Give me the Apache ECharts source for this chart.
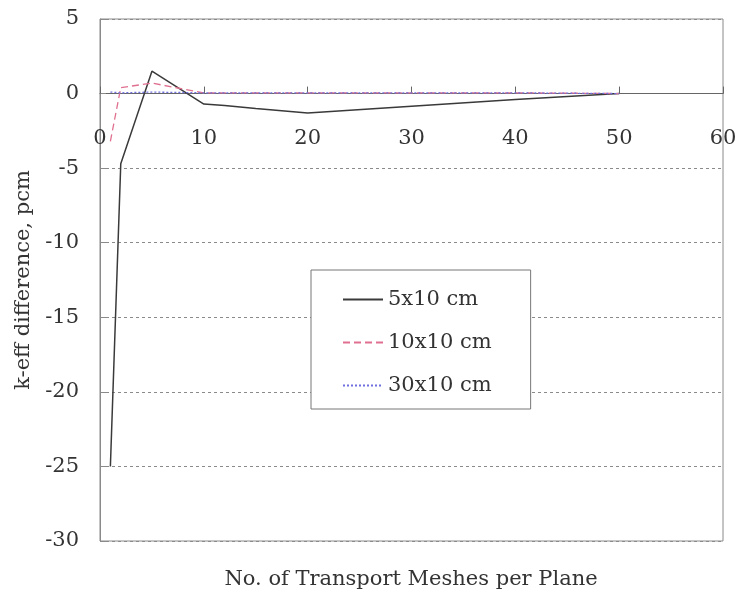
<!DOCTYPE html>
<html>
<head>
<meta charset="utf-8">
<script src="https://cdn.jsdelivr.net/npm/echarts@6/dist/echarts.min.js"></script>
<style>
  html, body { margin: 0; padding: 0; background: #fff; }
  #chart { width: 739px; height: 591px; }
</style>
</head>
<body>
<div id="chart"></div>
<script>
// Meshes per plane (x) against k-eff difference in pcm (y)
var meshes = [1, 2, 5, 10, 12, 15, 20, 30, 40, 50];
var diff5x10 = [-25.0, -4.7, 1.5, -0.7, -0.8, -1.0, -1.3, -0.85, -0.4, 0.0];
var diff10x10 = [-3.2, 0.4, 0.7, 0.05, 0.05, 0.05, 0.05, 0.05, 0.05, 0.0];
var diff30x10 = [0.1, 0.05, 0.1, 0.05, 0.05, 0.05, 0.05, 0.05, 0.05, 0.0];
var seriesNames = ['5x10 cm', '10x10 cm', '30x10 cm'];
var xTicks = [0, 10, 20, 30, 40, 50, 60];
var yTicks = [5, 0, -5, -10, -15, -20, -25, -30];
var xTitle = 'No. of Transport Meshes per Plane';
var yTitle = 'k-eff difference, pcm';

function pairs(xs, ys) {
  return xs.map(function (x, i) { return [x, ys[i]]; });
}

var W = 739, H = 591;
var gridBox = { left: 100, right: 16, top: 19, bottom: 50 };
var yMin = yTicks[yTicks.length - 1], yMax = yTicks[0];
// lift the x axis from the bottom edge up to the y = 0 level
var plotH = H - gridBox.top - gridBox.bottom;
var zeroLift = plotH * (0 - yMin) / (yMax - yMin);

var font = 'DejaVu Serif';
var chart = echarts.init(document.getElementById('chart'));
chart.setOption({
  backgroundColor: '#ffffff',
  animation: false,
  title: {
    text: xTitle,
    left: 411, top: 569,
    textAlign: 'center',
    padding: 0,
    textStyle: { fontFamily: font, fontSize: 21, fontWeight: 'normal', color: '#333' }
  },
  grid: {
    left: gridBox.left, right: gridBox.right, top: gridBox.top, bottom: gridBox.bottom,
    outerBoundsMode: 'none', containLabel: false,
    show: true, borderColor: '#8a8a8a', borderWidth: 1
  },
  legend: {
    orient: 'vertical',
    left: 311, top: 270,
    padding: [19, 39, 13, 31],
    itemGap: 22,
    itemWidth: 40, itemHeight: 14,
    backgroundColor: '#ffffff',
    borderColor: '#777', borderWidth: 1,
    itemStyle: { opacity: 0 },
    textStyle: { fontFamily: font, fontSize: 21, color: '#333' },
    data: seriesNames
  },
  xAxis: {
    type: 'value',
    position: 'bottom',
    offset: -zeroLift,
    min: xTicks[0], max: xTicks[xTicks.length - 1], interval: 10,
    axisLine: { onZero: false, lineStyle: { color: '#666', width: 1.2 } },
    axisTick: { inside: true, length: 7, lineStyle: { color: '#666' } },
    axisLabel: { margin: 34, fontFamily: font, fontSize: 21, color: '#333' },
    splitLine: { show: false }
  },
  yAxis: {
    type: 'value',
    min: yMin, max: yMax, interval: 5,
    axisLine: { show: true, lineStyle: { color: '#8a8a8a' } },
    axisTick: { inside: true, length: 6, lineStyle: { color: '#8a8a8a' } },
    axisLabel: { margin: 21, fontFamily: font, fontSize: 21, color: '#333' },
    splitLine: {
      show: true,
      lineStyle: { color: '#8a8a8a', type: [3, 3], width: 1 }
    },
    name: yTitle,
    nameLocation: 'middle', nameGap: 66,
    nameTextStyle: { fontFamily: font, fontSize: 21, color: '#333' }
  },
  series: [{
    name: seriesNames[0], type: 'line', symbol: 'none',
    data: pairs(meshes, diff5x10),
    lineStyle: { color: '#3a3a3a', width: 1.5, type: 'solid' },
    itemStyle: { color: '#3a3a3a' }, z: 3
  }, {
    name: seriesNames[1], type: 'line', symbol: 'none',
    data: pairs(meshes, diff10x10),
    lineStyle: { color: '#e07090', width: 1.3, type: [7, 4] },
    itemStyle: { color: '#e07090' }, z: 4
  }, {
    name: seriesNames[2], type: 'line', symbol: 'none',
    data: pairs(meshes, diff30x10),
    lineStyle: { color: '#7070e0', width: 1.3, type: [2, 2] },
    itemStyle: { color: '#7070e0' }, z: 5
  }]
});
</script>
</body>
</html>
